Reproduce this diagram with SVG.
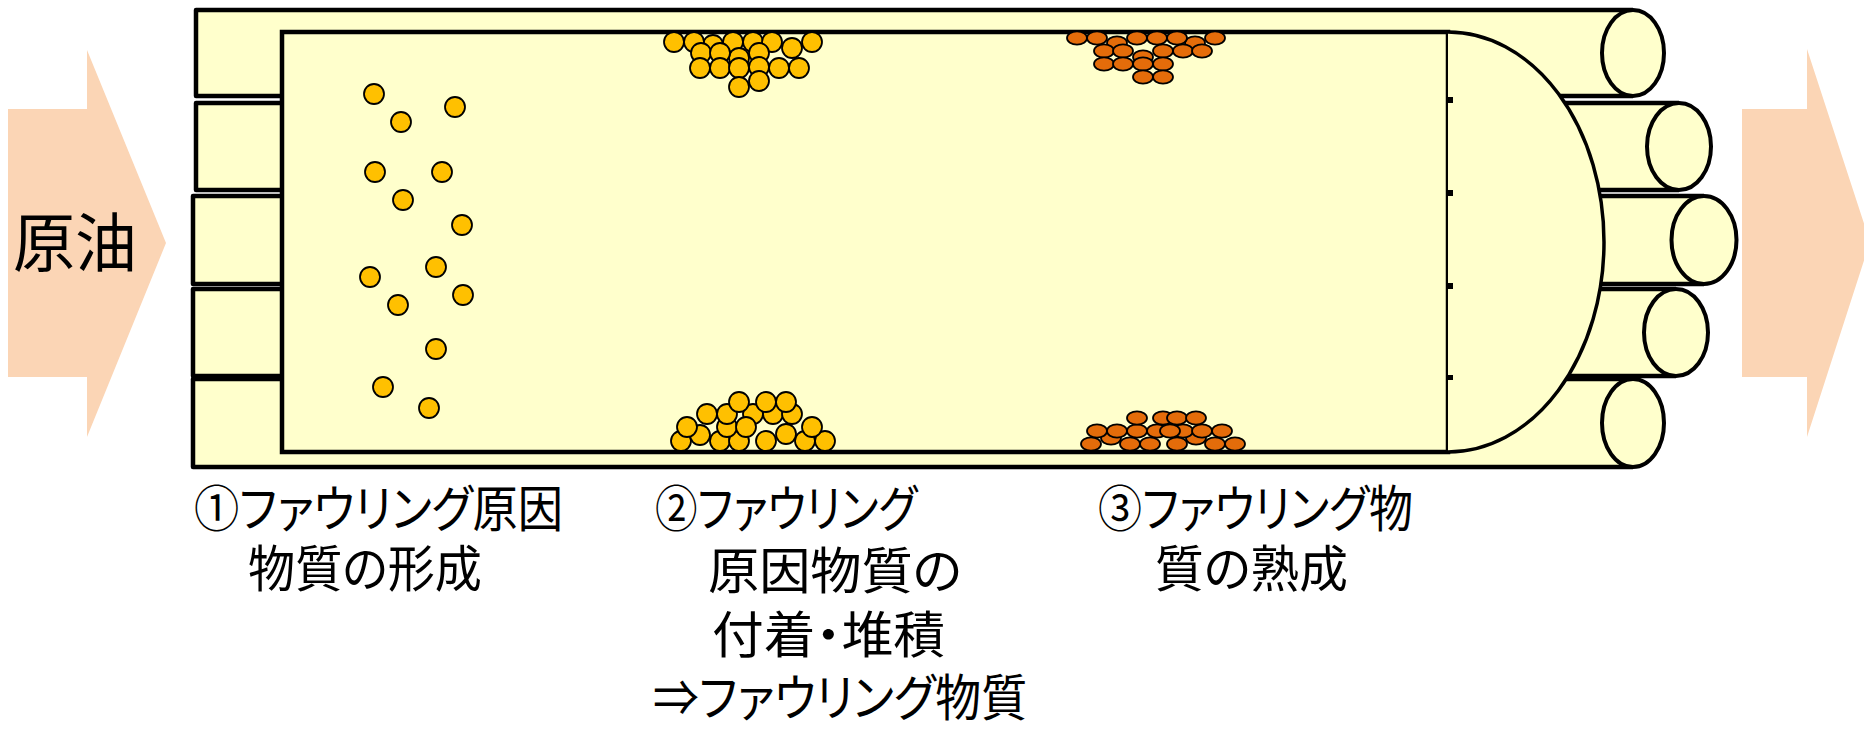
<svg xmlns="http://www.w3.org/2000/svg" width="1864" height="735" viewBox="0 0 1864 735">
  <style>
    .flow { fill: #FBD5B5; }
    .tube { fill: #FFFFCC; stroke: #000; stroke-width: 4.5; stroke-linejoin: round; }
    .cap { fill: #FFFFCC; stroke: #000; stroke-width: 4; }
    .shell { fill: #FFFFCC; stroke: #000; stroke-width: 4.5; }
    .dome { fill: #FFFFCC; stroke: #000; stroke-width: 3.5; }
    .p { fill: #FFC000; stroke: #000; stroke-width: 1.8; }
    .q { fill: #E46C0A; stroke: #000; stroke-width: 1.8; }
    .lbl { font-family: "Noto Sans CJK JP", "Noto Sans", sans-serif; font-size: 50px; fill: #000; font-feature-settings: "palt"; }
    .big { font-family: "Noto Sans CJK JP", "Noto Sans", sans-serif; font-size: 64px; fill: #000; }
  </style>
  <defs>
    <circle id="yp" r="10" class="p"/>
    <ellipse id="op" rx="10" ry="6.7" class="q"/>
  </defs>

  <!-- inlet / outlet flow arrows -->
  <g id="inlet">
    <polygon class="flow" points="8,109 87,109 87,50 166,243 87,437 87,377 8,377"/>
    <text class="big" x="13" y="266" textLength="124" lengthAdjust="spacingAndGlyphs">原油</text>
  </g>
  <g id="outlet">
    <polygon class="flow" points="1742,109 1807,109 1807,49 1870,242 1807,437 1807,377 1742,377"/>
  </g>

  <!-- heat-exchanger tubes (rear) -->
  <g id="tubes">
    <g id="tube1">
      <path class="tube" d="M1633,10 H196 V96 H1633"/>
      <ellipse class="cap" cx="1633" cy="53" rx="31" ry="43"/>
    </g>
    <g id="tube2">
      <path class="tube" d="M1679,103 H196 V190 H1679"/>
      <ellipse class="cap" cx="1679" cy="146.5" rx="32" ry="43.5"/>
    </g>
    <g id="tube3">
      <path class="tube" d="M1704,196 H193 V284 H1704"/>
      <ellipse class="cap" cx="1704" cy="240" rx="32.5" ry="44"/>
    </g>
    <g id="tube4">
      <path class="tube" d="M1676,289 H193 V376 H1676"/>
      <ellipse class="cap" cx="1676" cy="332.5" rx="32" ry="43.5"/>
    </g>
    <g id="tube5">
      <path class="tube" d="M1633,379 H193 V467 H1633"/>
      <ellipse class="cap" cx="1633" cy="423" rx="31" ry="44"/>
    </g>
  </g>

  <!-- enlarged tube section with head -->
  <g id="section">
    <rect class="shell" x="282" y="32" width="1166" height="420"/>
    <path class="dome" d="M1448,32 A156,210 0 0 1 1448,452"/>
    <g fill="#000">
      <rect x="1447" y="97" width="6" height="6"/>
      <rect x="1447" y="190" width="6" height="6"/>
      <rect x="1447" y="283" width="6" height="6"/>
      <rect x="1447" y="375" width="6" height="5"/>
    </g>
  </g>

  <!-- stage 1: suspended precursor particles -->
  <g id="particles-suspended">
    <use href="#yp" x="374" y="94"/>
    <use href="#yp" x="401" y="122"/>
    <use href="#yp" x="455" y="107"/>
    <use href="#yp" x="375" y="172"/>
    <use href="#yp" x="442" y="172"/>
    <use href="#yp" x="403" y="200"/>
    <use href="#yp" x="462" y="225"/>
    <use href="#yp" x="370" y="277"/>
    <use href="#yp" x="436" y="267"/>
    <use href="#yp" x="398" y="305"/>
    <use href="#yp" x="463" y="295"/>
    <use href="#yp" x="436" y="349"/>
    <use href="#yp" x="383" y="387"/>
    <use href="#yp" x="429" y="408"/>
  </g>

  <!-- stage 2: deposited particles, upper wall -->
  <g id="deposit-top">
    <use href="#yp" x="713" y="45"/>
    <use href="#yp" x="674" y="42"/>
    <use href="#yp" x="694" y="42"/>
    <use href="#yp" x="733" y="42"/>
    <use href="#yp" x="753" y="42"/>
    <use href="#yp" x="772" y="42"/>
    <use href="#yp" x="812" y="42"/>
    <use href="#yp" x="792" y="48"/>
    <use href="#yp" x="739" y="58"/>
    <use href="#yp" x="701" y="53"/>
    <use href="#yp" x="720" y="53"/>
    <use href="#yp" x="759" y="53"/>
    <use href="#yp" x="700" y="68"/>
    <use href="#yp" x="720" y="68"/>
    <use href="#yp" x="739" y="68"/>
    <use href="#yp" x="759" y="67"/>
    <use href="#yp" x="779" y="68"/>
    <use href="#yp" x="799" y="68"/>
    <use href="#yp" x="759" y="81"/>
    <use href="#yp" x="739" y="87"/>
  </g>

  <!-- stage 2: deposited particles, lower wall -->
  <g id="deposit-bottom">
    <use href="#yp" x="681" y="441"/>
    <use href="#yp" x="700" y="435"/>
    <use href="#yp" x="720" y="441"/>
    <use href="#yp" x="739" y="441"/>
    <use href="#yp" x="766" y="441"/>
    <use href="#yp" x="805" y="441"/>
    <use href="#yp" x="825" y="441"/>
    <use href="#yp" x="687" y="427"/>
    <use href="#yp" x="727" y="427"/>
    <use href="#yp" x="786" y="434"/>
    <use href="#yp" x="812" y="427"/>
    <use href="#yp" x="707" y="414"/>
    <use href="#yp" x="753" y="414"/>
    <use href="#yp" x="727" y="414"/>
    <use href="#yp" x="773" y="414"/>
    <use href="#yp" x="792" y="414"/>
    <use href="#yp" x="746" y="427"/>
    <use href="#yp" x="739" y="402"/>
    <use href="#yp" x="766" y="402"/>
    <use href="#yp" x="786" y="402"/>
  </g>

  <!-- stage 3: aged deposit, upper wall -->
  <g id="aged-top">
    <use href="#op" x="1117" y="43"/>
    <use href="#op" x="1195" y="43"/>
    <use href="#op" x="1077" y="38"/>
    <use href="#op" x="1097" y="38"/>
    <use href="#op" x="1137" y="38"/>
    <use href="#op" x="1157" y="38"/>
    <use href="#op" x="1177" y="38"/>
    <use href="#op" x="1215" y="38"/>
    <use href="#op" x="1143" y="57"/>
    <use href="#op" x="1104" y="51"/>
    <use href="#op" x="1123" y="51"/>
    <use href="#op" x="1163" y="51"/>
    <use href="#op" x="1183" y="51"/>
    <use href="#op" x="1202" y="51"/>
    <use href="#op" x="1104" y="64"/>
    <use href="#op" x="1123" y="64"/>
    <use href="#op" x="1143" y="64"/>
    <use href="#op" x="1163" y="64"/>
    <use href="#op" x="1143" y="77"/>
    <use href="#op" x="1163" y="77"/>
  </g>

  <!-- stage 3: aged deposit, lower wall -->
  <g id="aged-bottom">
    <use href="#op" x="1111" y="438"/>
    <use href="#op" x="1196" y="438"/>
    <use href="#op" x="1091" y="444"/>
    <use href="#op" x="1130" y="444"/>
    <use href="#op" x="1150" y="444"/>
    <use href="#op" x="1177" y="444"/>
    <use href="#op" x="1215" y="444"/>
    <use href="#op" x="1235" y="444"/>
    <use href="#op" x="1097" y="431"/>
    <use href="#op" x="1117" y="431"/>
    <use href="#op" x="1137" y="431"/>
    <use href="#op" x="1157" y="431"/>
    <use href="#op" x="1183" y="431"/>
    <use href="#op" x="1170" y="431"/>
    <use href="#op" x="1202" y="431"/>
    <use href="#op" x="1222" y="431"/>
    <use href="#op" x="1137" y="418"/>
    <use href="#op" x="1163" y="418"/>
    <use href="#op" x="1177" y="418"/>
    <use href="#op" x="1196" y="418"/>
  </g>

  <!-- stage captions -->
  <g id="caption1">
    <text class="lbl" x="194" y="527" textLength="369" lengthAdjust="spacingAndGlyphs">①ファウリング原因</text>
    <text class="lbl" x="248" y="587" textLength="234" lengthAdjust="spacingAndGlyphs">物質の形成</text>
  </g>
  <g id="caption2">
    <text class="lbl" x="655" y="527" textLength="262" lengthAdjust="spacingAndGlyphs">②ファウリング</text>
    <text class="lbl" x="708" y="589" textLength="254" lengthAdjust="spacingAndGlyphs">原因物質の</text>
    <text class="lbl" x="712" y="653" textLength="233" lengthAdjust="spacingAndGlyphs">付着・堆積</text>
    <text class="lbl" x="653" y="716" textLength="374" lengthAdjust="spacingAndGlyphs">⇒ファウリング物質</text>
  </g>
  <g id="caption3">
    <text class="lbl" x="1098" y="527" textLength="315" lengthAdjust="spacingAndGlyphs">③ファウリング物</text>
    <text class="lbl" x="1155" y="587" textLength="193" lengthAdjust="spacingAndGlyphs">質の熟成</text>
  </g>
</svg>
